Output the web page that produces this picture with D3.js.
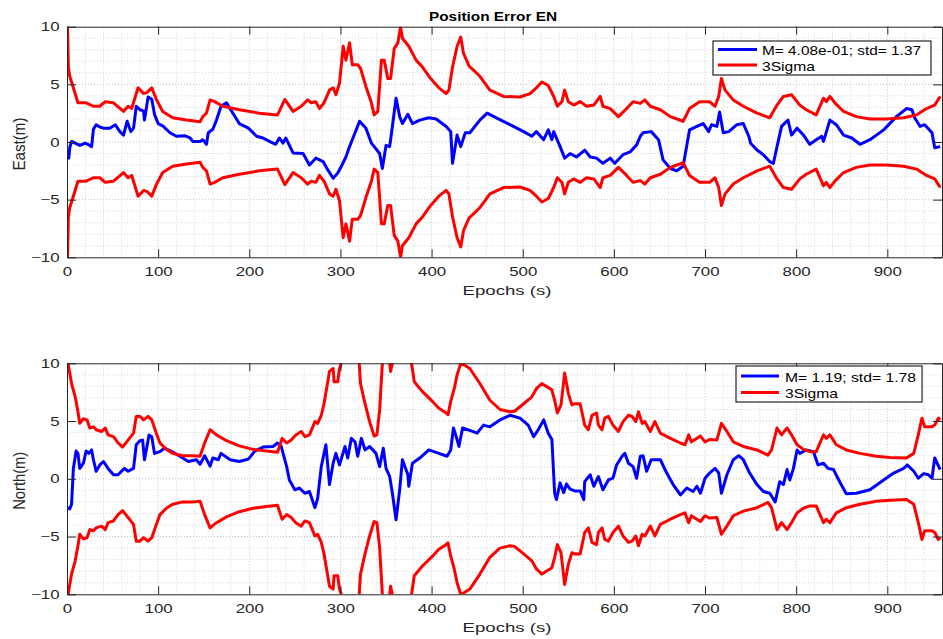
<!DOCTYPE html>
<html><head><meta charset="utf-8">
<script src="https://cdn.jsdelivr.net/npm/d3@7/dist/d3.min.js"></script>
<style>body{margin:0;background:#fff} svg{display:block}</style>
</head><body><svg id="c" width="943" height="639"></svg>
<script>
// ---------- DATA (epoch s, metres) ----------
const xTicks = [0,100,200,300,400,500,600,700,800,900];
const yTicks = [-10,-5,0,5,10];
const titleText = "Position Error EN";
const xLabelText = "Epochs (s)";
const yLabels = ["East(m)", "North(m)"];
const legendEast = ["M= 4.08e-01; std= 1.37", "3Sigma"];
const legendNorth = ["M= 1.19; std= 1.78", "3Sigma"];

const eastError = [[0,-1.0],[2,-1.4],[3,-0.5],[5,0.05],[9,-0.1],[14,-0.3],[20,-0.1],[25,-0.3],[27,-0.4],[29,1.1],[32,1.5],[36,1.3],[40,1.2],[47,1.2],[53,1.5],[58,0.9],[62,0.6],[66,1.8],[70,0.9],[73,1.2],[76,3.1],[80,2.8],[84,2.7],[85,1.9],[89,3.9],[93,3.7],[96,2.4],[100,1.6],[105,1.4],[113,0.8],[120,0.5],[129,0.55],[135,0.35],[138,0.05],[146,0.05],[149,0.2],[153,-0.2],[155,0.8],[160,1.1],[164,1.9],[169,3.1],[175,3.4],[182,2.5],[189,1.6],[199,1.2],[208,0.5],[215,0.35],[222,0.05],[229,-0.2],[233,0.35],[237,-0.1],[240,0.35],[248,-0.95],[259,-1.0],[266,-2.0],[273,-1.4],[281,-1.7],[286,-2.4],[292,-3.15],[297,-2.7],[301,-2.1],[306,-1.3],[310,-0.4],[313,0.2],[321,1.8],[328,1.2],[334,-0.1],[339,-0.6],[343,-1.0],[346,-2.3],[350,-0.3],[354,-0.4],[357,1.35],[361,3.8],[365,2.2],[368,1.6],[374,2.4],[379,1.6],[387,1.9],[397,2.1],[405,2.0],[416,1.35],[421,0.9],[423,-1.85],[428,0.6],[432,-0.4],[437,0.8],[442,0.8],[453,1.9],[461,2.5],[471,2.1],[486,1.5],[501,0.9],[510,0.5],[515,0.9],[523,0.2],[528,1.05],[532,0.2],[534,0.9],[541,-0.4],[546,-1.4],[552,-1.0],[559,-1.3],[568,-0.7],[574,-1.3],[581,-1.4],[588,-1.85],[596,-1.4],[601,-1.85],[610,-1.1],[618,-0.85],[625,-0.25],[629,0.5],[632,0.8],[641,0.9],[649,0.2],[654,-1.55],[662,-2.3],[669,-2.5],[676,-2.1],[683,1.05],[691,1.35],[698,1.6],[704,0.9],[707,1.5],[713,1.35],[716,2.6],[720,0.8],[726,0.9],[735,1.5],[742,1.6],[748,0.5],[750,-0.1],[757,-0.7],[764,-1.1],[771,-1.7],[775,-1.85],[779,-0.4],[784,1.35],[791,1.9],[795,0.6],[801,1.2],[808,0.6],[815,-0.2],[822,0.2],[828,0.5],[830,0.05],[837,1.9],[844,1.5],[852,0.6],[861,0.35],[870,-0.2],[881,0.2],[896,1.05],[910,2.2],[921,2.9],[927,2.8],[930,2.1],[936,1.35],[941,1.5],[949,0.8],[952,-0.5],[958,-0.4]];

const eastSigma = [[0,12],[1.5,6.5],[3,5.7],[7,4.7],[12,3.4],[21,3.4],[29,3.1],[36,3.1],[42,3.5],[51,3.4],[62,2.65],[67,3.1],[71,2.9],[78,4.7],[84,4.2],[88,4.3],[93,4.7],[98,3.7],[105,2.65],[116,2.1],[131,1.9],[146,1.75],[149,2.2],[153,2.5],[157,3.65],[162,3.5],[171,3.1],[189,2.8],[211,2.5],[231,2.35],[239,3.7],[248,2.65],[257,3.1],[264,3.65],[268,3.4],[273,3.5],[277,2.9],[282,3.4],[288,4.5],[292,4.7],[295,4.1],[299,5.1],[303,8.3],[306,7.1],[310,8.6],[313,6.7],[319,6.7],[322,6.4],[328,4.8],[334,3.4],[337,2.35],[341,2.65],[345,7.1],[348,7.1],[352,5.5],[355,5.5],[359,8.1],[363,8.6],[366,10.0],[368,9.0],[375,8.3],[383,7.1],[390,6.5],[399,5.5],[408,4.7],[416,4.2],[419,4.5],[423,6.5],[428,8.3],[432,9.1],[435,7.7],[441,6.6],[453,5.7],[464,4.5],[479,3.95],[497,3.9],[508,4.2],[515,4.7],[521,5.2],[528,4.9],[534,3.95],[538,3.1],[543,3.5],[546,4.5],[550,3.5],[556,3.2],[563,3.5],[570,3.1],[578,3.2],[585,3.95],[588,3.1],[596,2.9],[605,2.2],[614,2.9],[621,3.5],[629,3.35],[634,3.65],[640,3.1],[651,2.8],[662,2.2],[676,1.8],[683,2.9],[694,3.5],[705,3.5],[711,3.1],[715,3.95],[718,5.5],[722,4.5],[731,3.65],[742,3.1],[757,2.5],[771,2.1],[779,3.2],[786,3.95],[795,4.1],[804,3.2],[811,2.8],[822,2.35],[830,3.8],[833,3.5],[837,3.95],[843,3.35],[852,2.65],[866,2.2],[881,2.0],[899,2.0],[918,2.1],[932,2.35],[943,2.9],[952,3.2],[958,3.95]];

const northError = [[0,-2.5],[3,-2.6],[5,-2.2],[7,0.9],[10,2.4],[12,2.2],[14,0.9],[18,1.35],[21,2.4],[24,2.2],[27,2.5],[29,1.65],[32,0.65],[36,1.2],[40,1.5],[45,0.9],[51,0.35],[56,0.35],[63,0.9],[67,0.65],[73,0.9],[76,2.95],[80,3.3],[83,3.35],[85,1.65],[87,2.5],[90,3.8],[93,3.65],[96,2.2],[102,2.35],[107,2.65],[115,2.35],[124,1.95],[133,1.5],[142,1.65],[146,1.25],[151,2.0],[157,1.1],[160,1.8],[166,1.65],[169,2.2],[179,1.65],[189,1.5],[199,1.7],[206,2.4],[215,2.75],[226,2.8],[231,3.1],[235,2.8],[241,1.05],[244,-0.1],[250,-0.95],[255,-0.8],[261,-1.25],[266,-1.1],[272,-2.5],[275,-1.7],[279,1.05],[284,2.95],[288,-0.5],[292,1.35],[295,2.2],[299,1.2],[305,2.8],[308,1.8],[312,3.5],[316,3.2],[319,1.95],[323,3.5],[327,2.5],[332,2.8],[339,2.2],[343,1.05],[347,2.65],[350,0.9],[354,0.2],[357,-1.25],[361,-3.55],[365,-0.95],[368,1.65],[374,0.35],[375,-0.65],[379,1.35],[387,1.8],[397,2.5],[408,2.2],[417,1.95],[421,2.5],[424,4.4],[427,3.65],[430,2.8],[434,4.4],[445,4.1],[450,3.95],[457,4.65],[464,4.5],[475,5.1],[486,5.5],[497,5.25],[506,4.65],[512,3.65],[517,4.25],[523,5.1],[528,3.95],[532,3.4],[535,-1.25],[537,-1.8],[541,-0.35],[545,-1.2],[548,-0.45],[552,-0.9],[557,-1.05],[563,-1.05],[567,-1.8],[568,-0.25],[574,0.35],[578,-0.65],[583,0.2],[588,-0.95],[594,-0.1],[599,0.05],[603,1.2],[609,1.95],[612,2.2],[616,1.35],[621,1.05],[625,0.05],[629,1.95],[632,2.0],[636,0.65],[641,1.65],[651,1.65],[658,0.5],[665,-0.5],[673,-1.4],[680,-0.8],[687,-1.1],[691,-0.65],[695,-1.25],[700,0.05],[705,0.5],[711,0.9],[715,0.5],[718,-1.25],[724,0.35],[731,1.65],[737,2.0],[742,1.65],[749,0.5],[757,-0.5],[764,-1.1],[771,-1.25],[777,-2.0],[782,-0.25],[786,-0.5],[790,0.8],[793,-0.1],[797,0.9],[801,2.5],[804,2.2],[811,2.5],[819,2.35],[824,1.2],[830,1.35],[835,0.9],[841,0.8],[848,-0.3],[855,-1.3],[866,-1.25],[881,-0.95],[896,-0.1],[907,0.5],[918,0.9],[922,1.2],[929,0.65],[934,0.05],[940,0.45],[945,0.35],[949,0.05],[952,1.8],[958,0.8]];

const northSigma = [[0,12],[1.5,9.85],[5,8.25],[9,7.1],[12,5.8],[14,4.8],[18,5.2],[22,5.1],[25,4.4],[29,4.5],[32,4.25],[38,4.1],[42,4.4],[45,3.8],[51,3.65],[56,3.1],[61,2.75],[67,3.35],[73,3.95],[76,5.4],[80,5.4],[84,5.1],[89,5.4],[93,5.1],[98,3.95],[102,3.1],[109,2.55],[116,2.2],[127,2.0],[138,2.0],[146,1.95],[151,3.1],[157,4.25],[164,3.8],[175,3.3],[189,2.85],[204,2.55],[219,2.4],[231,2.3],[236,3.5],[241,3.1],[246,3.35],[251,3.8],[257,4.1],[261,3.65],[266,3.8],[272,4.95],[275,4.8],[279,5.5],[282,6.5],[288,9.3],[292,9.55],[293,8.4],[297,8.4],[299,9.55],[303,10.5],[308,12.5],[314,13],[319,12],[322,8.25],[327,6.5],[332,4.95],[337,3.7],[340,3.8],[343,5.95],[346,10],[349,12],[353,11],[355,9.3],[357,10],[362,12.5],[370,12.5],[376,11],[378,10],[381,8.4],[390,7.55],[401,6.7],[408,6.1],[416,5.7],[418,5.55],[421,6.7],[425,7.85],[428,9.0],[432,10.0],[436,9.85],[442,9.55],[453,8.25],[464,6.8],[475,6.0],[486,5.8],[491,5.85],[501,6.5],[510,7.1],[515,7.8],[521,8.25],[532,7.7],[535,6.8],[538,5.7],[542,6.4],[546,9.15],[550,7.4],[554,6.4],[557,6.5],[563,6.5],[568,4.65],[572,4.25],[576,5.5],[581,5.7],[583,4.65],[587,4.25],[590,5.25],[594,5.4],[599,4.65],[605,4.1],[610,4.95],[616,5.5],[620,5.4],[624,4.95],[627,5.8],[631,4.8],[634,4.95],[640,4.1],[645,4.95],[651,3.95],[662,3.5],[673,3.1],[678,2.95],[682,3.8],[685,3.2],[691,3.5],[695,3.7],[700,3.2],[705,3.4],[713,3.35],[718,4.8],[724,4.1],[731,3.2],[742,2.8],[757,2.5],[769,2.05],[773,2.5],[779,4.4],[784,3.8],[790,4.4],[795,3.8],[801,2.95],[808,2.55],[815,2.35],[822,2.35],[830,3.8],[833,3.5],[837,3.8],[844,2.95],[855,2.5],[870,2.2],[888,1.95],[903,1.85],[921,1.8],[929,2.2],[934,3.8],[938,5.25],[941,4.5],[949,4.5],[952,4.65],[956,5.25],[958,5.1]];

// ---------- DRAWING ----------
const svg = d3.select("#c");
const FONT = "'Liberation Sans', Arial, Helvetica, sans-serif";
const AX = "#262626";
const SX = 1.35; // horizontal glyph stretch of the original figure

const x = d3.scaleLinear().domain([0, 960]).range([67, 942]);

const panels = [
  {top: 26.7, bottom: 257.3, err: eastError, sig: eastSigma, ylabel: yLabels[0], ylabLen: 53,
   legend: legendEast, lg: {x: 713, y: 41, w: 218, h: 34, l1: 718, l2: 757, tx: 762, r1: 49.5, r2: 65, b1: 55, b2: 70.5, len1: 159, len2: 53},
   xlabY: 295},
  {top: 363.3, bottom: 594.3, err: northError, sig: northSigma, ylabel: yLabels[1], ylabLen: 58,
   legend: legendNorth, lg: {x: 736, y: 366, w: 186, h: 36, l1: 741, l2: 779, tx: 785, r1: 376, r2: 392.5, b1: 381.5, b2: 397.5, len1: 131, len2: 53},
   xlabY: 632}
];

panels.forEach((p, i) => {
  const y = d3.scaleLinear().domain([-10, 10]).range([p.bottom, p.top]);
  const g = svg.append("g");
  const cid = "clip" + i;
  svg.append("clipPath").attr("id", cid).append("rect")
    .attr("x", x.range()[0]).attr("y", p.top)
    .attr("width", x.range()[1] - x.range()[0]).attr("height", p.bottom - p.top);

  // grid (minor + major, dotted)
  const grid = g.append("g");
  d3.range(20, 960, 20).forEach(v => {
    grid.append("line").attr("x1", x(v)).attr("x2", x(v)).attr("y1", p.top).attr("y2", p.bottom)
      .attr("stroke", v % 100 === 0 ? "#c4c4c4" : "#d6d6d6").attr("stroke-width", 1)
      .attr("stroke-dasharray", "1,2");
  });
  d3.range(-9, 10, 1).forEach(v => {
    grid.append("line").attr("x1", x.range()[0]).attr("x2", x.range()[1]).attr("y1", y(v)).attr("y2", y(v))
      .attr("stroke", v % 5 === 0 ? "#c4c4c4" : "#d6d6d6").attr("stroke-width", 1)
      .attr("stroke-dasharray", "1,2");
  });

  // lines
  const line = d3.line().x(d => x(d[0])).y(d => y(d[1]));
  const lg = g.append("g").attr("clip-path", `url(#${cid})`);
  lg.append("path").datum(p.err).attr("d", line).attr("fill", "none")
    .attr("stroke", "#0000ff").attr("stroke-width", 3).attr("stroke-linejoin", "round");
  lg.append("path").datum(p.sig).attr("d", line).attr("fill", "none")
    .attr("stroke", "#ff0000").attr("stroke-width", 3).attr("stroke-linejoin", "round");
  lg.append("path").datum(p.sig.map(d => [d[0], -d[1]])).attr("d", line).attr("fill", "none")
    .attr("stroke", "#ff0000").attr("stroke-width", 3).attr("stroke-linejoin", "round");

  // axes (inward ticks, box)
  const styleAxis = sel => {
    sel.select(".domain").attr("stroke", AX).attr("stroke-width", 1);
    sel.selectAll(".tick line").attr("stroke", AX).attr("stroke-width", 1);
    sel.selectAll("text").attr("fill", AX).style("font-family", FONT).style("font-size", "12.5px");
  };
  const xb = g.append("g").attr("transform", `translate(0,${p.bottom})`)
    .call(d3.axisBottom(x).tickValues(xTicks).tickSizeInner(-8).tickSizeOuter(0).tickPadding(10));
  styleAxis(xb);
  xb.selectAll("text").attr("transform", `scale(${SX},1)`);
  const xt = g.append("g").attr("transform", `translate(0,${p.top})`)
    .call(d3.axisTop(x).tickValues(xTicks).tickSizeInner(-8).tickSizeOuter(0).tickFormat(""));
  styleAxis(xt);
  const yl = g.append("g").attr("transform", `translate(${x.range()[0]},0)`)
    .call(d3.axisLeft(y).tickValues(yTicks).tickSizeInner(-9).tickSizeOuter(0).tickPadding(6));
  styleAxis(yl);
  yl.selectAll("text").attr("transform", `scale(${SX},1)`).attr("x", -7.5 / SX);
  const yr = g.append("g").attr("transform", `translate(${x.range()[1]},0)`)
    .call(d3.axisRight(y).tickValues(yTicks).tickSizeInner(-9).tickSizeOuter(0).tickFormat(""));
  styleAxis(yr);

  // x label
  g.append("text").attr("x", 507).attr("y", p.xlabY).attr("text-anchor", "middle")
    .attr("fill", AX).style("font-family", FONT).style("font-size", "13px")
    .attr("textLength", 89).attr("lengthAdjust", "spacingAndGlyphs").text(xLabelText);
  // y label
  g.append("text")
    .attr("transform", `translate(25,${(p.top + p.bottom) / 2 + 2}) scale(${SX * 0.95},1) rotate(-90)`)
    .attr("text-anchor", "middle").attr("fill", AX)
    .style("font-family", FONT).style("font-size", "13px")
    .attr("textLength", p.ylabLen).attr("lengthAdjust", "spacingAndGlyphs").text(p.ylabel);

  // legend
  const L = p.lg;
  const leg = g.append("g");
  leg.append("rect").attr("x", L.x).attr("y", L.y).attr("width", L.w).attr("height", L.h)
    .attr("fill", "#fff").attr("stroke", AX).attr("stroke-width", 1.2);
  leg.append("line").attr("x1", L.l1).attr("x2", L.l2).attr("y1", L.r1).attr("y2", L.r1)
    .attr("stroke", "#0000ff").attr("stroke-width", 3);
  leg.append("line").attr("x1", L.l1).attr("x2", L.l2).attr("y1", L.r2).attr("y2", L.r2)
    .attr("stroke", "#ff0000").attr("stroke-width", 3);
  leg.append("text").attr("x", L.tx).attr("y", L.b1).attr("fill", "#000")
    .style("font-family", FONT).style("font-size", "13.5px")
    .attr("textLength", L.len1).attr("lengthAdjust", "spacingAndGlyphs").text(p.legend[0]);
  leg.append("text").attr("x", L.tx).attr("y", L.b2).attr("fill", "#000")
    .style("font-family", FONT).style("font-size", "13.5px")
    .attr("textLength", L.len2).attr("lengthAdjust", "spacingAndGlyphs").text(p.legend[1]);
});

// title
svg.append("text").attr("x", 493).attr("y", 21).attr("text-anchor", "middle")
  .attr("fill", "#000").style("font-family", FONT).style("font-size", "13px").style("font-weight", "bold")
  .attr("textLength", 128).attr("lengthAdjust", "spacingAndGlyphs").text(titleText);
</script>
</body></html>
